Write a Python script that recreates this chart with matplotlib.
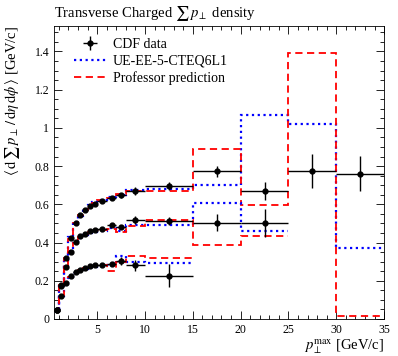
import numpy as np
import matplotlib.pyplot as plt
from matplotlib.ticker import MultipleLocator

plt.rcParams['font.family'] = ['Liberation Serif', 'DejaVu Serif']
plt.rcParams['mathtext.fontset'] = 'stix'

# Bin edges (GeV/c) for the three transverse regions
edges_max = [0.5, 1, 1.5, 2, 2.5, 3, 3.5, 4, 4.5, 5, 6, 7, 8, 10, 15, 20, 25, 30, 35]
edges_ave = edges_max[:17]
edges_min = edges_max[:15]

# CDF data
data_max = [0.047, 0.18, 0.317, 0.425, 0.50, 0.543, 0.569, 0.59, 0.604, 0.618,
            0.635, 0.647, 0.67, 0.696, 0.773, 0.670, 0.773, 0.761]
err_max = [0.005, 0.006, 0.007, 0.007, 0.007, 0.007, 0.007, 0.007, 0.008, 0.008,
           0.01, 0.012, 0.02, 0.02, 0.03, 0.045, 0.09, 0.09]
data_ave = [0.047, 0.172, 0.273, 0.351, 0.404, 0.433, 0.447, 0.46, 0.465, 0.473,
            0.494, 0.482, 0.517, 0.513, 0.503, 0.503]
err_ave = [0.005, 0.006, 0.006, 0.006, 0.006, 0.006, 0.006, 0.006, 0.007, 0.007,
           0.01, 0.012, 0.02, 0.02, 0.045, 0.075]
data_min = [0.045, 0.12, 0.19, 0.225, 0.245, 0.258, 0.268, 0.276, 0.282, 0.282,
            0.286, 0.305, 0.28, 0.226]
err_min = [0.005, 0.006, 0.006, 0.006, 0.006, 0.006, 0.006, 0.006, 0.007, 0.007,
           0.01, 0.02, 0.03, 0.06]

# UE-EE-5-CTEQ6L1 (blue) and Professor prediction (red)
blue_max = [0.045, 0.175, 0.31, 0.43, 0.505, 0.54, 0.575, 0.595, 0.61, 0.625,
            0.64, 0.65, 0.675, 0.678, 0.70, 1.067, 1.018, 0.371]
red_max = [0.045, 0.18, 0.32, 0.42, 0.50, 0.545, 0.57, 0.59, 0.605, 0.62,
           0.635, 0.655, 0.672, 0.672, 0.889, 0.599, 1.391, 0.016]
blue_ave = [0.04, 0.165, 0.27, 0.355, 0.395, 0.425, 0.44, 0.45, 0.455, 0.46,
            0.475, 0.46, 0.49, 0.49, 0.607, 0.458]
red_ave = [0.045, 0.17, 0.28, 0.35, 0.40, 0.43, 0.445, 0.455, 0.46, 0.465,
           0.47, 0.456, 0.486, 0.517, 0.388, 0.433]
blue_min = [0.04, 0.12, 0.18, 0.215, 0.24, 0.252, 0.262, 0.27, 0.274, 0.278,
            0.283, 0.33, 0.30, 0.291]
red_min = [0.04, 0.125, 0.185, 0.22, 0.24, 0.255, 0.265, 0.272, 0.276, 0.28,
           0.252, 0.30, 0.329, 0.317]

fig = plt.figure(figsize=(3.98, 3.56), dpi=100)
ax = fig.add_axes([0.136, 0.104, 0.829, 0.824])

blue_ls = (0, (1, 1.6))
red_ls = (0, (4, 2.5))

series = [
    (edges_max, data_max, err_max, blue_max, red_max),
    (edges_ave, data_ave, err_ave, blue_ave, red_ave),
    (edges_min, data_min, err_min, blue_min, red_min),
]
for i, (edges, data, err, blue, red) in enumerate(series):
    e = np.array(edges)
    xc = 0.5 * (e[1:] + e[:-1])
    xe = 0.5 * (e[1:] - e[:-1])
    ax.stairs(blue, e, baseline=None, color='blue', lw=1.6, ls=blue_ls,
              label='UE-EE-5-CTEQ6L1' if i == 0 else None, zorder=2)
    ax.stairs(red, e, baseline=None, color='red', lw=1.3, ls=red_ls,
              label='Professor prediction' if i == 0 else None, zorder=2)
    ax.errorbar(xc, data, xerr=xe, yerr=err, fmt='o', color='black', ms=3.5,
                elinewidth=1.0, capsize=0, zorder=3,
                label='CDF data' if i == 0 else None)

ax.set_xlim(0.5, 35)
ax.set_ylim(0, 1.535)
ax.xaxis.set_major_locator(MultipleLocator(5))
ax.xaxis.set_minor_locator(MultipleLocator(1))
ax.yaxis.set_major_locator(MultipleLocator(0.2))
ax.yaxis.set_minor_locator(MultipleLocator(0.05))
ax.yaxis.set_major_formatter(plt.FuncFormatter(lambda v, p: '%g' % round(v, 2)))
ax.tick_params(which='both', direction='in', top=True, right=True, labelsize=8.5)
ax.tick_params(which='major', length=6, width=0.6)
ax.tick_params(which='minor', length=3, width=0.6)
for s in ax.spines.values():
    s.set_linewidth(0.6)

h, l = ax.get_legend_handles_labels()
order = [l.index('CDF data'), l.index('UE-EE-5-CTEQ6L1'), l.index('Professor prediction')]
ax.legend([h[k] for k in order], [l[k] for k in order], loc='upper left',
          frameon=False, fontsize=10, handlelength=2.3, handletextpad=0.5,
          borderaxespad=0.3, labelspacing=0.25, bbox_to_anchor=(0.03, 0.99))

fig.text(0.136, 0.952, r'Transverse Charged $\sum\, p_\perp$ density', fontsize=10.5,
         ha='left', va='baseline')
fig.text(0.032, 0.928,
         r'$\langle\,\mathrm{d}\,\sum\, p_\perp\,/\,\mathrm{d}\eta\,\mathrm{d}\phi\,\rangle$ [GeV/c]',
         rotation=90, ha='center', va='top', fontsize=10.5)
fig.text(0.965, 0.018, r'$p_\perp^{\mathrm{max}}$ [GeV/c]', ha='right', va='baseline', fontsize=10.5)

fig.savefig('out.png', dpi=100)
